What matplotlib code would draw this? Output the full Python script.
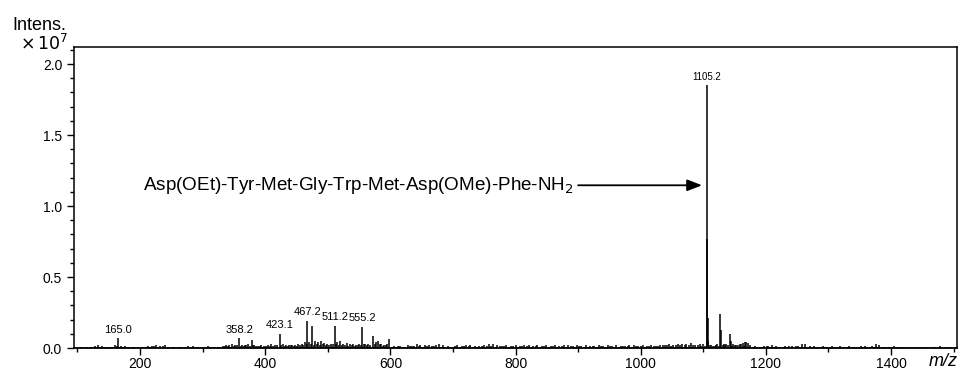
import matplotlib.pyplot as plt
from matplotlib.ticker import MultipleLocator

plt.rcParams['font.family'] = ['Liberation Sans', 'DejaVu Sans']

# labelled / main peaks (m/z, intensity in 1e7 counts)
peak_mz = [165.0, 358.2, 378.5, 423.1, 467.2, 475.0, 489.0, 511.2, 520.0, 555.2,
           572.5, 580.0, 598.0, 1105.2, 1106.2, 1107.2, 1108.2, 1127.2, 1128.2,
           1143.2, 1144.2, 1169.0]
peak_int = [0.07, 0.07, 0.055, 0.10, 0.19, 0.155, 0.05, 0.155, 0.05, 0.15,
            0.085, 0.05, 0.06, 1.85, 0.77, 0.21, 0.05, 0.24, 0.13,
            0.10, 0.05, 0.045]

# baseline noise
noise_mz = [105, 112, 121, 128, 133, 139, 146, 152, 160, 170, 176, 183, 190, 197,
            205, 212, 219, 226, 232, 240, 247, 255, 262, 270, 277, 285, 292, 300,
            308, 316, 324, 332, 337, 342, 347, 352, 363, 368, 372, 382, 388, 393,
            398, 404, 410, 415, 428, 433, 438, 443, 448, 453, 458, 463, 470, 480,
            485, 494, 499, 505, 515, 525, 530, 535, 540, 545, 550, 560, 565, 577,
            585, 590, 595, 605, 612, 620, 628, 635, 642, 648, 655, 662, 670, 677,
            684, 692, 700, 707, 714, 721, 728, 735, 742, 750, 757, 764, 771, 778,
            785, 792, 800, 807, 814, 821, 828, 835, 842, 849, 856, 863, 870, 877,
            884, 891, 898, 905, 912, 919, 926, 933, 940, 947, 954, 961, 968, 975,
            982, 989, 996, 1003, 1010, 1017, 1024, 1031, 1038, 1045, 1052, 1059,
            1066, 1073, 1080, 1087, 1094, 1100, 1112, 1118, 1122, 1133, 1137, 1148,
            1152, 1158, 1163, 1167, 1171, 1175, 1182, 1190, 1197, 1204, 1210, 1216,
            1223, 1230, 1237, 1244, 1251, 1258, 1263, 1270, 1277, 1284, 1291, 1298,
            1305, 1312, 1319, 1326, 1333, 1340, 1348, 1355, 1362, 1370, 1376, 1381,
            1388, 1397, 1405, 1412, 1420, 1430, 1440, 1452, 1465, 1478, 1490]
noise_int = [0.008, 0.006, 0.010, 0.012, 0.018, 0.015, 0.010, 0.008, 0.020, 0.015,
             0.012, 0.010, 0.008, 0.006, 0.010, 0.014, 0.012, 0.020, 0.015, 0.022,
             0.010, 0.008, 0.006, 0.010, 0.012, 0.014, 0.010, 0.008, 0.012, 0.006,
             0.010, 0.015, 0.020, 0.018, 0.025, 0.020, 0.022, 0.018, 0.030, 0.020,
             0.015, 0.018, 0.012, 0.020, 0.025, 0.018, 0.030, 0.022, 0.020, 0.018,
             0.022, 0.025, 0.030, 0.040, 0.045, 0.050, 0.040, 0.035, 0.030, 0.025,
             0.045, 0.030, 0.035, 0.025, 0.030, 0.020, 0.025, 0.030, 0.025, 0.040,
             0.030, 0.020, 0.025, 0.015, 0.012, 0.010, 0.018, 0.015, 0.025, 0.020,
             0.018, 0.022, 0.015, 0.030, 0.018, 0.012, 0.010, 0.020, 0.015, 0.022,
             0.018, 0.012, 0.015, 0.020, 0.030, 0.025, 0.018, 0.015, 0.020, 0.012,
             0.018, 0.015, 0.022, 0.018, 0.012, 0.020, 0.015, 0.018, 0.012, 0.020,
             0.015, 0.022, 0.018, 0.012, 0.020, 0.015, 0.018, 0.012, 0.015, 0.020,
             0.012, 0.018, 0.015, 0.020, 0.015, 0.012, 0.018, 0.022, 0.015, 0.018,
             0.015, 0.020, 0.012, 0.018, 0.022, 0.025, 0.020, 0.028, 0.030, 0.025,
             0.035, 0.020, 0.030, 0.025, 0.020, 0.015, 0.025, 0.030, 0.025, 0.030,
             0.020, 0.025, 0.035, 0.045, 0.035, 0.020, 0.012, 0.010, 0.015, 0.012,
             0.020, 0.015, 0.010, 0.012, 0.015, 0.010, 0.015, 0.025, 0.030, 0.015,
             0.012, 0.010, 0.012, 0.010, 0.015, 0.010, 0.012, 0.008, 0.012, 0.010,
             0.006, 0.008, 0.010, 0.012, 0.025, 0.020, 0.010, 0.006, 0.012, 0.008,
             0.010, 0.006, 0.008, 0.005, 0.006, 0.012, 0.005]

# second pass of smaller noise spikes in between
noise2_mz = [116, 124, 136, 143, 149, 156, 163, 167, 173, 180, 187, 201, 209, 216,
             223, 229, 236, 244, 251, 266, 281, 289, 296, 304, 312, 320, 328, 335,
             340, 345, 350, 355, 361, 366, 370, 375, 380, 385, 391, 396, 401, 407,
             413, 419, 426, 431, 436, 441, 446, 451, 456, 461, 466, 473, 478, 483,
             487, 492, 497, 502, 508, 513, 518, 523, 528, 533, 538, 543, 548, 553,
             558, 563, 568, 575, 583, 588, 593, 602, 609, 616, 624, 631, 638, 645,
             652, 659, 666, 673, 681, 688, 696, 704, 711, 718, 725, 732, 739, 746,
             754, 761, 768, 775, 782, 789, 796, 804, 811, 818, 825, 832, 839, 846,
             853, 860, 867, 874, 881, 888, 895, 902, 909, 916, 923, 930, 937, 944,
             951, 958, 965, 972, 979, 986, 993, 1000, 1007, 1014, 1021, 1028, 1035,
             1042, 1049, 1056, 1063, 1070, 1077, 1084, 1091, 1097, 1102, 1110, 1115,
             1120, 1125, 1131, 1135, 1140, 1146, 1150, 1155, 1161, 1165, 1173, 1179,
             1186, 1193, 1201, 1207, 1213, 1220, 1227, 1234, 1241, 1248, 1255, 1261,
             1266, 1273, 1280, 1288, 1295, 1302, 1309, 1316, 1323, 1330, 1337, 1344,
             1352, 1359, 1366, 1373, 1379, 1385, 1392, 1401, 1409, 1416, 1425, 1435,
             1446, 1458, 1471, 1484, 1496]
noise2_int = [0.005, 0.007, 0.009, 0.006, 0.008, 0.005, 0.012, 0.010, 0.007, 0.006,
              0.005, 0.008, 0.006, 0.010, 0.012, 0.009, 0.014, 0.007, 0.005, 0.008,
              0.006, 0.009, 0.005, 0.007, 0.010, 0.006, 0.008, 0.012, 0.015, 0.010,
              0.014, 0.018, 0.012, 0.016, 0.020, 0.014, 0.018, 0.012, 0.016, 0.010,
              0.014, 0.012, 0.015, 0.018, 0.020, 0.016, 0.014, 0.018, 0.012, 0.016,
              0.020, 0.018, 0.025, 0.030, 0.022, 0.028, 0.020, 0.025, 0.018, 0.022,
              0.030, 0.025, 0.020, 0.018, 0.022, 0.016, 0.020, 0.014, 0.018, 0.020,
              0.025, 0.018, 0.022, 0.030, 0.025, 0.016, 0.018, 0.010, 0.008, 0.012,
              0.010, 0.014, 0.012, 0.016, 0.010, 0.014, 0.012, 0.018, 0.010, 0.008,
              0.006, 0.012, 0.010, 0.014, 0.012, 0.008, 0.010, 0.014, 0.016, 0.012,
              0.010, 0.012, 0.014, 0.008, 0.012, 0.010, 0.014, 0.012, 0.008, 0.012,
              0.010, 0.012, 0.008, 0.014, 0.010, 0.012, 0.008, 0.014, 0.010, 0.012,
              0.008, 0.010, 0.012, 0.008, 0.014, 0.010, 0.012, 0.008, 0.010, 0.014,
              0.012, 0.010, 0.012, 0.014, 0.010, 0.012, 0.016, 0.014, 0.018, 0.020,
              0.016, 0.022, 0.018, 0.024, 0.020, 0.018, 0.022, 0.016, 0.014, 0.018,
              0.016, 0.020, 0.014, 0.018, 0.022, 0.020, 0.016, 0.018, 0.022, 0.025,
              0.012, 0.008, 0.006, 0.010, 0.008, 0.012, 0.010, 0.006, 0.008, 0.010,
              0.006, 0.012, 0.016, 0.010, 0.008, 0.006, 0.008, 0.010, 0.006, 0.008,
              0.005, 0.008, 0.006, 0.005, 0.007, 0.005, 0.008, 0.012, 0.015, 0.008,
              0.005, 0.006, 0.004, 0.007, 0.005, 0.004, 0.006, 0.004, 0.005, 0.006,
              0.005, 0.004, 0.006, 0.004]

label_mz = [165.0, 358.2, 423.1, 467.2, 511.2, 555.2, 1105.2]
label_int = [0.07, 0.07, 0.10, 0.19, 0.155, 0.15, 1.85]

fig = plt.figure(figsize=(9.59, 3.72), dpi=100)
ax = fig.add_axes([0.0772, 0.0645, 0.9208, 0.8092])

ax.vlines(noise_mz, 0, noise_int, color='black', lw=1.1)
ax.vlines(noise2_mz, 0, noise2_int, color='black', lw=1.1)
ax.vlines(peak_mz, 0, peak_int, color='black', lw=1.1)

for mz, h in zip(label_mz, label_int):
    fs = 7 if mz > 1000 else 8
    ax.text(mz, h + 0.025, f"{mz:.1f}", ha='center', va='bottom', fontsize=fs)

ax.annotate("", xy=(1098, 1.146), xytext=(900, 1.146),
            arrowprops=dict(arrowstyle='-|>,head_length=0.9,head_width=0.35',
                            color='black', lw=1.3, shrinkA=0, shrinkB=0))
ax.text(893, 1.146, "Asp(OEt)-Tyr-Met-Gly-Trp-Met-Asp(OMe)-Phe-NH$_2$",
        ha='right', va='center', fontsize=13.6)

ax.set_xlim(94.5, 1505.5)
ax.set_ylim(0, 2.12)
ax.xaxis.set_major_locator(MultipleLocator(200))
ax.xaxis.set_minor_locator(MultipleLocator(100))
ax.yaxis.set_major_locator(MultipleLocator(0.5))
ax.yaxis.set_minor_locator(MultipleLocator(0.1))
ax.yaxis.set_major_formatter(plt.FuncFormatter(lambda v, p: f"{v:.1f}"))
ax.tick_params(which='major', length=5, width=1, labelsize=10, direction='out')
ax.tick_params(which='minor', length=3, width=1, direction='out')
ax.tick_params(axis='x', which='major', labelbottom=False)
for mz in range(200, 1500, 200):
    ax.text(mz, -0.06, str(mz), ha='center', va='top', fontsize=10,
            transform=ax.transData)
for s in ax.spines.values():
    s.set_linewidth(1.1)
ax.spines['bottom'].set_linewidth(1.3)

fig.text(39 / 959, 1 - 25 / 372, "Intens.", ha='center', va='center', fontsize=13)
fig.text(68 / 959, 1 - 43 / 372, r"$\times\,10^7$", ha='right', va='center', fontsize=12.5)
fig.text(943 / 959, 1 - 362 / 372, "m/z", ha='center', va='center', fontsize=13,
         style='italic')

fig.savefig("out.png", dpi=100)
